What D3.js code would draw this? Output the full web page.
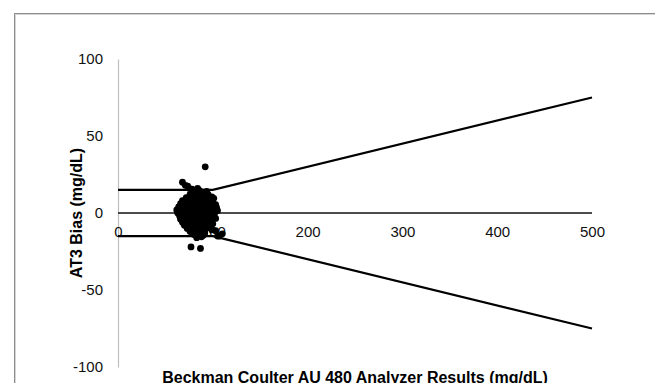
<!DOCTYPE html>
<html>
<head>
<meta charset="utf-8">
<script src="https://cdn.jsdelivr.net/npm/d3@7"></script>
<style>
  body { margin: 0; background: #fff; }
  svg { display: block; font-family: "Liberation Sans", Arial, sans-serif; }
</style>
</head>
<body>
<div id="chart"></div>
<script>
// axis ticks
const xTicks = [0, 100, 200, 300, 400, 500];
const yTicks = [-100, -50, 0, 50, 100];

// limit lines (+/- 15 mg/dL below 100, +/- 15% above)
const limitX = [0, 100, 500];
const upperLimit = [15, 15, 75];
const lowerLimit = [-15, -15, -75];
const zeroX = [0, 500];
const zeroY = [0, 0];

// scatter: Beckman Coulter AU 480 result vs AT3 bias
const resultX = [
  92, 68, 71, 73.5, 75, 78, 84, 80, 86, 90, 93.5,
  76, 82, 88, 95, 99, 72, 79, 85, 91, 97, 101,
  68, 74, 81, 87, 93, 100, 66, 70, 77, 83, 89, 95, 98, 103,
  64, 69, 75, 80, 86, 92, 96, 104, 62, 67, 72, 78, 84, 90, 94, 99, 105,
  63, 68, 74, 79, 85, 88, 93, 98, 102, 65, 70, 76, 81, 87, 91, 96, 101,
  66, 72, 78, 83, 89, 94, 99, 103, 68, 74, 80, 85, 90, 95, 100,
  70, 76, 82, 88, 92, 97, 73, 79, 84, 89, 94, 99, 76, 81, 86, 91, 103,
  80, 85, 90, 105, 110, 83, 88, 107, 77, 87,
  78.5, 83.5, 87.5, 81.5, 77.5, 86.5, 90.5, 79.5, 84.5, 92.5, 75.5, 82.5,
  88.5, 73.5, 96.5, 71.5, 85.5, 80.5, 94.5, 89.5, 74.5, 91.5, 69.5, 97.5
];
const biasY = [
  30, 20, 18, 17.5, 16, 15.5, 16, 14, 14.5, 13.5, 14,
  12, 12.5, 11.5, 12, 10.5, 10, 10.5, 9.5, 10, 9, 9.5,
  8, 8.5, 7.5, 8, 7, 7.5, 6, 5.5, 6.5, 6, 5.5, 6, 5, 5.5,
  4, 3.5, 4.5, 4, 3.5, 4, 3, 3.5, 2, 1.5, 2.5, 2, 1.5, 2, 1, 2.5, 1.5,
  0, -0.5, 0.5, 0, -0.5, 0.5, 0, -0.5, 0, -2, -1.5, -2.5, -2, -1.5, -2, -2.5, -1.5,
  -4, -3.5, -4.5, -4, -3.5, -4, -4.5, -3.5, -6, -5.5, -6.5, -6, -5.5, -6, -7,
  -8, -7.5, -8.5, -8, -7.5, -8.5, -10, -9.5, -10.5, -10, -9.5, -11, -12, -11.5, -12.5, -12, -11.5,
  -14, -13.5, -14.5, -15, -13.5, -16, -15.5, -15, -22, -23,
  3, -1, 5, -7, 7, -3, -5, 1, 9, -9, -2, 11,
  -12, 4, -6, -5, 13, -10, 8, 6, 0, -13, 1, -1
];

const W = 655, H = 383;
const svg = d3.select("#chart").append("svg")
  .attr("width", W)
  .attr("height", H);

// outer frame of the chart area
svg.append("rect")
  .attr("x", 14.5).attr("y", 13.5)
  .attr("width", 700).attr("height", 400)
  .attr("fill", "#fff")
  .attr("stroke", "#8c8c8c");
svg.append("path")
  .attr("d", "M15.5,400V14.5H700")
  .attr("fill", "none")
  .attr("stroke", "#d6d6d6");

const x = d3.scaleLinear().domain([0, 500]).range([118, 592]);
const y = d3.scaleLinear().domain([-100, 100]).range([367, 59]);

const fmt = d => String(d); // plain hyphen minus like the original

// y axis (grey line, left labels)
const yAxis = svg.append("g")
  .attr("transform", `translate(${x(0)},0)`)
  .call(d3.axisLeft(y).tickValues(yTicks).tickFormat(fmt).tickSize(0).tickSizeOuter(0).tickPadding(15));
yAxis.select(".domain").attr("stroke", "#bfbfbf").attr("stroke-width", 1.2);
yAxis.selectAll("text")
  .style("font-size", "15px")
  .attr("fill", "#111")
  .attr("font-family", "Liberation Sans, Arial, sans-serif");

// x axis labels at y = 0
const xAxis = svg.append("g")
  .attr("transform", `translate(0,${y(0)})`)
  .call(d3.axisBottom(x).tickValues(xTicks).tickFormat(fmt).tickSize(0).tickSizeOuter(0).tickPadding(13));
xAxis.select(".domain").remove();
xAxis.selectAll("text")
  .style("font-size", "15px")
  .attr("fill", "#111")
  .attr("font-family", "Liberation Sans, Arial, sans-serif");

const line = d3.line().x(d => x(d[0])).y(d => y(d[1]));

svg.append("path")
  .datum(d3.zip(zeroX, zeroY))
  .attr("d", line)
  .attr("fill", "none")
  .attr("stroke", "#111")
  .attr("stroke-width", 1.6);

[upperLimit, lowerLimit].forEach(lim => {
  svg.append("path")
    .datum(d3.zip(limitX, lim))
    .attr("d", line)
    .attr("fill", "none")
    .attr("stroke", "#000")
    .attr("stroke-width", 2.2);
});

// points
svg.append("g")
  .selectAll("circle")
  .data(d3.zip(resultX, biasY))
  .enter().append("circle")
  .attr("cx", d => x(d[0]))
  .attr("cy", d => y(d[1]))
  .attr("r", 3.4)
  .attr("fill", "#000");

// axis titles
svg.append("text")
  .attr("x", 355)
  .attr("y", 383)
  .attr("text-anchor", "middle")
  .style("font-size", "16px")
  .style("font-weight", "bold")
  .text("Beckman Coulter AU 480 Analyzer Results (mg/dL)");

svg.append("text")
  .attr("transform", "translate(82,213) rotate(-90)")
  .attr("text-anchor", "middle")
  .style("font-size", "16px")
  .style("font-weight", "bold")
  .text("AT3 Bias (mg/dL)");
</script>
</body>
</html>
